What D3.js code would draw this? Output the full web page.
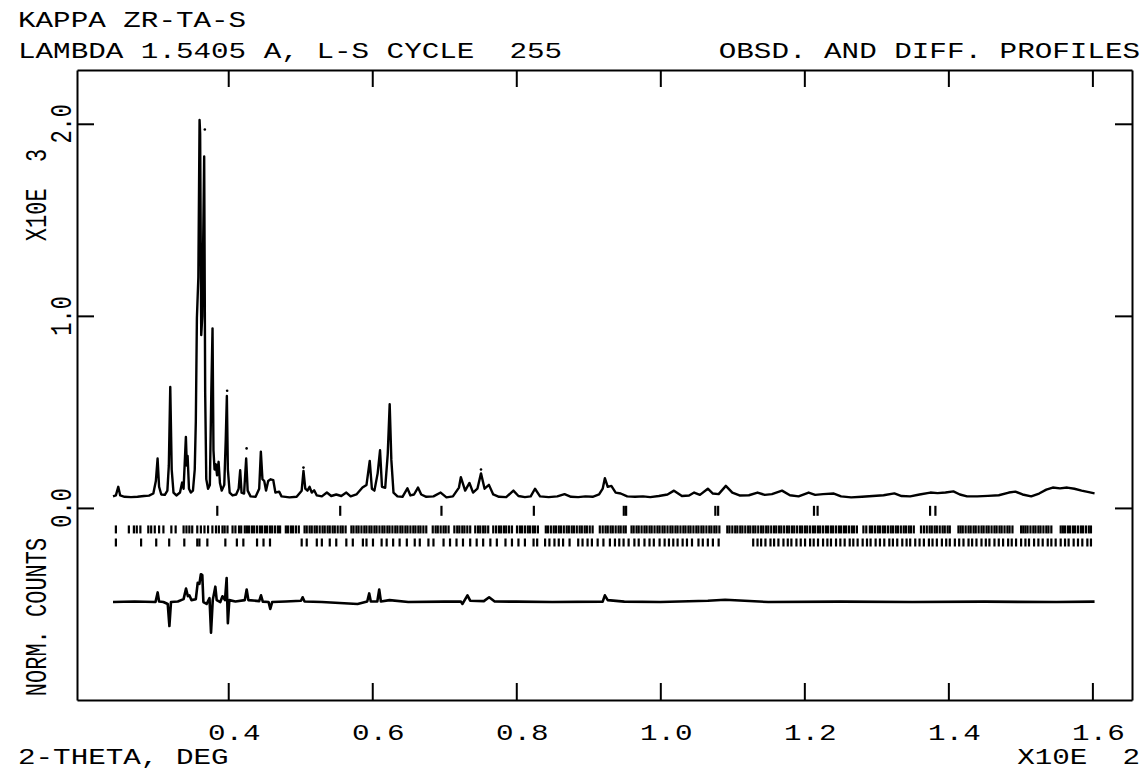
<!DOCTYPE html>
<html>
<head>
<meta charset="utf-8">
<script src="https://cdn.jsdelivr.net/npm/d3@7"></script>
<style>
  body { margin: 0; background: #fff; }
  text { font-family: "Liberation Mono", "DejaVu Sans Mono", monospace; font-size: 22px; fill: #000; white-space: pre; }
</style>
</head>
<body>
<div id="chart"></div>
<script>
// observed profile, [2-theta (deg), counts x10^3]
const observed = [
  [24.0,0.06],[24.4,0.065],[24.73,0.11],[25.0,0.065],[25.6,0.058],[26.5,0.056],[27.4,0.058],[28.3,0.062],[29.0,0.064],[29.6,0.075],
  [29.95,0.14],[30.19,0.257],[30.4,0.11],[30.7,0.07],[31.2,0.068],[31.55,0.09],[31.75,0.22],[31.95,0.63],[32.15,0.2],[32.4,0.08],
  [32.8,0.065],[33.3,0.08],[33.6,0.132],[33.8,0.1],[34.12,0.37],[34.25,0.22],[34.36,0.27],[34.55,0.1],[34.8,0.08],[35.1,0.09],
  [35.35,0.2],[35.5,0.45],[35.65,0.99],[35.85,1.2],[36.02,2.02],[36.1,1.95],[36.25,0.9],[36.4,1.0],[36.66,1.83],[36.8,0.6],
  [36.95,0.15],[37.2,0.1],[37.45,0.12],[37.65,0.6],[37.82,0.935],[37.95,0.3],[38.1,0.2],[38.28,0.227],[38.45,0.17],[38.66,0.24],
  [38.85,0.13],[39.1,0.09],[39.45,0.12],[39.65,0.35],[39.81,0.583],[39.95,0.2],[40.2,0.08],[40.6,0.065],[41.1,0.07],[41.45,0.1],
  [41.66,0.196],[41.85,0.08],[42.2,0.075],[42.49,0.257],[42.7,0.09],[43.1,0.06],[43.8,0.058],[44.3,0.1],[44.53,0.293],[44.75,0.15],
  [45.0,0.14],[45.25,0.09],[45.55,0.14],[45.9,0.149],[46.25,0.145],[46.55,0.08],[47.07,0.085],[47.4,0.06],[48.5,0.055],[49.5,0.058],
  [50.2,0.09],[50.45,0.193],[50.7,0.1],[51.0,0.09],[51.3,0.11],[51.6,0.08],[51.93,0.092],[52.3,0.065],[53.0,0.06],[53.7,0.08],
  [54.3,0.062],[55.0,0.07],[55.7,0.062],[56.4,0.08],[57.0,0.06],[57.8,0.07],[58.64,0.106],[59.2,0.12],[59.65,0.245],[59.95,0.1],
  [60.3,0.09],[60.75,0.18],[61.08,0.3],[61.35,0.11],[61.8,0.105],[62.15,0.28],[62.42,0.54],[62.65,0.25],[62.95,0.08],[63.5,0.06],
  [64.2,0.058],[64.88,0.102],[65.3,0.065],[65.8,0.07],[66.35,0.106],[66.8,0.07],[67.5,0.058],[68.5,0.06],[69.5,0.08],[70.3,0.055],
  [71.2,0.06],[72.04,0.106],[72.3,0.16],[72.9,0.09],[73.5,0.13],[74.0,0.08],[74.6,0.1],[75.1,0.18],[75.6,0.1],[76.2,0.12],
  [76.8,0.07],[77.6,0.058],[78.6,0.056],[79.6,0.09],[80.3,0.062],[81.2,0.056],[82.0,0.06],[82.6,0.1],[83.3,0.06],[84.5,0.056],
  [85.7,0.06],[86.7,0.072],[87.6,0.058],[88.6,0.056],[89.6,0.06],[90.6,0.058],[91.5,0.07],[92.0,0.1],[92.3,0.155],[92.7,0.11],
  [93.2,0.115],[93.8,0.08],[94.5,0.075],[95.4,0.06],[96.5,0.058],[97.6,0.06],[98.6,0.056],[99.8,0.062],[101.0,0.07],[101.9,0.09],
  [103.0,0.062],[104.0,0.065],[104.7,0.08],[105.5,0.068],[106.6,0.1],[107.3,0.075],[108.1,0.072],[109.1,0.115],[110.0,0.08],[111.0,0.065],
  [112.3,0.066],[113.5,0.08],[114.5,0.068],[115.5,0.072],[116.9,0.09],[118.0,0.066],[119.2,0.06],[120.6,0.08],[121.5,0.068],[122.6,0.072],
  [124.1,0.075],[125.1,0.06],[126.5,0.055],[128.0,0.058],[129.5,0.062],[131.0,0.066],[132.5,0.076],[133.5,0.062],[134.7,0.06],[136.0,0.07],
  [137.5,0.08],[138.5,0.077],[139.6,0.08],[140.7,0.086],[141.6,0.07],[142.6,0.06],[144.0,0.06],[145.5,0.063],[147.0,0.066],[148.4,0.08],
  [149.3,0.085],[150.3,0.07],[151.5,0.06],[152.6,0.075],[153.6,0.095],[154.5,0.106],[155.5,0.102],[156.5,0.106],[157.5,0.1],[158.5,0.09],
  [159.5,0.082],[160.3,0.076]
];

// observed points sitting above the calculated line
const obsDots = [[36.75,1.97],[39.85,0.61],[42.55,0.31],[50.45,0.21],[75.1,0.2]];

// difference profile (obs - calc), offset below zero
const difference = [
  [24.0,-0.49],[27.0,-0.487],[29.9,-0.49],[30.2,-0.44],[30.4,-0.487],[31.0,-0.49],[31.6,-0.5],[31.83,-0.615],[32.05,-0.49],[33.0,-0.487],
  [33.8,-0.475],[34.14,-0.42],[34.4,-0.46],[34.6,-0.455],[34.9,-0.48],[35.5,-0.475],[35.76,-0.39],[36.0,-0.395],[36.2,-0.345],[36.4,-0.35],
  [36.55,-0.49],[37.0,-0.5],[37.4,-0.47],[37.61,-0.65],[37.85,-0.48],[38.21,-0.41],[38.4,-0.48],[38.9,-0.49],[39.2,-0.46],[39.55,-0.48],
  [39.78,-0.365],[39.95,-0.6],[40.15,-0.48],[41.0,-0.487],[42.3,-0.48],[42.56,-0.425],[42.8,-0.48],[44.3,-0.485],[44.55,-0.455],[44.8,-0.488],
  [45.6,-0.49],[45.84,-0.526],[46.1,-0.49],[48.0,-0.487],[50.1,-0.483],[50.33,-0.465],[50.6,-0.487],[53.0,-0.49],[57.96,-0.5],[59.3,-0.487],
  [59.58,-0.445],[59.8,-0.487],[60.7,-0.487],[60.97,-0.425],[61.2,-0.487],[62.4,-0.48],[65.0,-0.49],[70.0,-0.488],[72.3,-0.487],[72.53,-0.5],
  [73.22,-0.455],[73.6,-0.483],[75.5,-0.485],[76.23,-0.465],[77.0,-0.487],[80.0,-0.488],[85.0,-0.49],[92.0,-0.488],[92.3,-0.455],[92.7,-0.48],
  [95.0,-0.488],[100.0,-0.49],[106.6,-0.483],[109.0,-0.478],[115.0,-0.49],[125.0,-0.488],[135.0,-0.49],[145.0,-0.488],[155.0,-0.49],[160.3,-0.488]
];

// reflection markers, one row per phase
const phase1Pos = [38.48,55.55,69.61,82.44,94.93,95.25,107.64,108.03,121.34,121.84,137.46,138.2];
const phase2Pos = [
  24.4,26.2,26.9,27.3,27.8,28.9,29.3,29.8,30.4,31.0,32.1,32.7,33.8,34.2,34.6,35.0,35.7,36.2,36.7,37.2,37.8,38.3,38.7,39.2,39.5,39.9,40.6,41.0,41.5,41.8,42.3,
  42.6,42.9,43.3,43.6,44.0,44.4,44.7,45.1,45.4,45.8,46.1,46.5,46.9,47.2,48.0,48.3,48.7,49.0,49.4,49.8,50.6,50.9,51.3,51.6,52.0,52.3,52.7,53.1,53.4,53.8,
  54.1,54.5,54.8,55.2,55.6,55.9,56.3,57.1,57.4,57.8,58.1,58.5,58.9,59.2,59.6,59.9,60.3,60.6,61.0,61.4,61.7,62.1,62.4,62.8,63.2,63.5,63.9,64.2,64.6,64.9,
  65.3,65.7,66.0,66.4,66.7,67.1,67.5,68.4,68.8,69.1,69.5,69.9,70.2,70.6,71.4,71.8,72.1,72.5,72.8,73.2,73.6,74.3,74.7,75.0,75.4,75.7,76.1,76.8,77.2,77.6,
  77.9,78.3,78.6,79.0,79.4,80.1,80.5,80.8,81.2,81.6,81.9,82.3,82.6,83.0,84.1,84.4,84.8,85.2,85.5,85.9,86.2,86.6,87.0,87.3,87.7,88.0,88.4,88.8,89.1,89.5,
  89.8,90.2,90.6,91.6,92.0,92.4,92.7,93.1,93.4,93.8,94.2,94.5,94.9,95.2,96.0,96.3,96.7,97.0,97.4,97.8,98.1,98.5,98.8,99.2,99.6,99.9,100.3,100.6,101.0,
  101.4,101.7,102.1,102.4,102.8,103.2,103.5,103.9,104.2,104.6,105.0,105.3,105.7,106.0,106.4,106.8,107.1,107.5,107.8,108.2,109.3,109.6,110.0,110.4,110.7,
  111.1,111.4,111.8,112.2,112.5,112.9,113.2,113.6,114.0,114.3,114.7,115.0,115.4,115.8,116.1,116.5,116.8,117.2,117.6,117.9,118.3,118.6,119.0,119.4,119.7,
  120.1,120.4,120.8,121.2,121.5,121.9,122.2,122.6,123.0,123.3,123.7,124.0,124.4,124.8,125.1,125.5,125.8,126.2,126.6,126.9,127.3,128.2,128.6,129.1,129.4,
  129.8,130.2,130.5,130.9,131.2,131.6,132.0,132.3,132.7,133.0,133.4,133.8,134.1,134.5,134.8,135.2,136.2,136.6,137.0,137.4,137.7,138.1,138.4,138.8,139.2,
  139.5,139.9,140.2,141.4,141.7,142.0,142.4,142.8,143.1,143.5,143.8,144.2,144.6,144.9,145.3,145.6,146.0,146.4,146.7,147.1,147.4,147.8,148.2,148.5,148.9,
  150.1,150.4,150.7,151.0,151.4,151.8,152.1,152.5,152.8,153.2,153.6,153.9,154.3,155.6,155.9,156.2,156.6,156.9,157.3,157.6,158.0,158.4,158.7,159.1,159.5,159.8
];
const phase3Pos = [
  24.4,27.9,30.0,31.8,33.9,35.7,36.0,37.1,39.6,41.2,42.1,44.0,44.9,45.8,50.2,50.9,52.3,53.0,54.1,55.0,56.4,57.3,58.7,59.2,60.1,61.3,62.0,62.9,63.8,64.8,
  65.9,66.6,67.8,68.5,69.9,70.8,71.7,72.6,73.6,74.5,75.4,76.4,77.3,78.5,79.4,80.3,81.2,82.4,82.9,84.0,84.6,85.3,85.9,86.5,87.4,88.6,89.2,89.9,90.5,91.3,
  92.1,93.0,93.7,94.3,94.9,95.6,96.4,97.0,97.8,98.5,99.1,99.9,100.6,101.2,101.8,102.4,103.1,103.7,104.4,105.3,105.9,106.6,107.3,108.1,112.9,113.5,114.0,
  114.6,115.3,115.8,116.4,117.1,117.7,118.2,118.9,119.5,120.1,120.8,121.3,121.9,122.6,123.2,123.7,124.4,125.0,125.6,126.3,126.8,127.4,128.1,128.7,129.2,
  129.9,130.5,131.1,131.8,132.3,132.9,133.6,134.2,134.7,135.4,136.0,136.6,137.3,137.8,138.4,139.1,139.7,140.2,140.9,141.5,142.1,142.8,143.3,143.9,144.6,
  145.2,145.7,146.4,147.0,147.6,148.3,148.8,149.4,150.1,150.7,151.2,151.9,152.5,153.1,153.8,154.3,154.9,155.6,156.2,156.7,157.4,158.0,158.6,159.3,159.8
];
const rowLevels = [-0.015, -0.112, -0.18];

const xTicks = [40, 60, 80, 100, 120, 140, 160];
const xTickLabels = ["0.4", "0.6", "0.8", "1.0", "1.2", "1.4", "1.6"];
const yTicks = [0, 1, 2];
const yTickLabels = ["0.0", "1.0", "2.0"];

const W = 1145, H = 773;
const frame = { left: 77, right: 1132, top: 70, bottom: 700 };
const stretch = 1.33;

const svg = d3.select("#chart")
  .append("svg")
  .attr("width", W)
  .attr("height", H);

const x = d3.scaleLinear().domain([19, 165.5]).range([frame.left, frame.right]);
const y = d3.scaleLinear().domain([-1.0, 2.28]).range([frame.bottom, frame.top]);

// frame with inward ticks on all four sides
const styleAxis = (g) => {
  g.select(".domain").attr("stroke", "#000").attr("stroke-width", 2);
  g.selectAll(".tick line").attr("stroke", "#000").attr("stroke-width", 2);
  g.selectAll(".tick text").remove();
};
svg.append("g").attr("transform", `translate(0,${frame.bottom})`)
  .call(d3.axisTop(x).tickValues(xTicks).tickSizeInner(17).tickSizeOuter(0)).call(styleAxis);
svg.append("g").attr("transform", `translate(0,${frame.top})`)
  .call(d3.axisBottom(x).tickValues(xTicks).tickSizeInner(17).tickSizeOuter(0)).call(styleAxis);
svg.append("g").attr("transform", `translate(${frame.left},0)`)
  .call(d3.axisRight(y).tickValues(yTicks).tickSizeInner(17).tickSizeOuter(0)).call(styleAxis);
svg.append("g").attr("transform", `translate(${frame.right},0)`)
  .call(d3.axisLeft(y).tickValues(yTicks).tickSizeInner(17).tickSizeOuter(0)).call(styleAxis);

// plotter style text: monospaced, stretched sideways
function label(px, py, str, anchor, rotated) {
  svg.append("text")
    .attr("transform", `translate(${px},${py}) scale(${stretch},1)` + (rotated ? " rotate(-90)" : ""))
    .attr("text-anchor", anchor)
    .text(str);
}

label(18, 27, "KAPPA ZR-TA-S", "start");
label(18, 58, "LAMBDA 1.5405 A, L-S CYCLE  255", "start");
label(1140, 58, "OBSD. AND DIFF. PROFILES", "end");

xTicks.forEach((t, i) => label(x(t) + 6, 740, xTickLabels[i], "middle"));
yTicks.forEach((t, i) => label(71, y(t), yTickLabels[i], "middle", true));

label(46, 195, "X10E  3", "middle", true);
label(46, 617, "NORM. COUNTS", "middle", true);
label(18, 764, "2-THETA, DEG", "start");
label(1140, 764, "X10E  2", "end");

// profiles
const line = d3.line().x((d) => x(d[0])).y((d) => y(d[1]));

svg.append("path")
  .datum(observed)
  .attr("d", line)
  .attr("fill", "none")
  .attr("stroke", "#000")
  .attr("stroke-width", 2.4)
  .attr("stroke-linejoin", "round");

svg.selectAll(".obsdot")
  .data(obsDots)
  .enter()
  .append("circle")
  .attr("cx", (d) => x(d[0]))
  .attr("cy", (d) => y(d[1]))
  .attr("r", 1.3)
  .attr("fill", "#000");

svg.append("path")
  .datum(difference)
  .attr("d", line)
  .attr("fill", "none")
  .attr("stroke", "#000")
  .attr("stroke-width", 2.6)
  .attr("stroke-linejoin", "round");

// reflection tick rows
const rows = [
  { pos: phase1Pos, len: 10 },
  { pos: phase2Pos, len: 8 },
  { pos: phase3Pos, len: 8 }
];
rows.forEach((r, i) => {
  svg.append("g")
    .selectAll("line")
    .data(r.pos)
    .enter()
    .append("line")
    .attr("x1", (d) => x(d))
    .attr("x2", (d) => x(d))
    .attr("y1", y(rowLevels[i]) - r.len / 2)
    .attr("y2", y(rowLevels[i]) + r.len / 2)
    .attr("stroke", "#000")
    .attr("stroke-width", 2.2);
});
</script>
</body>
</html>
